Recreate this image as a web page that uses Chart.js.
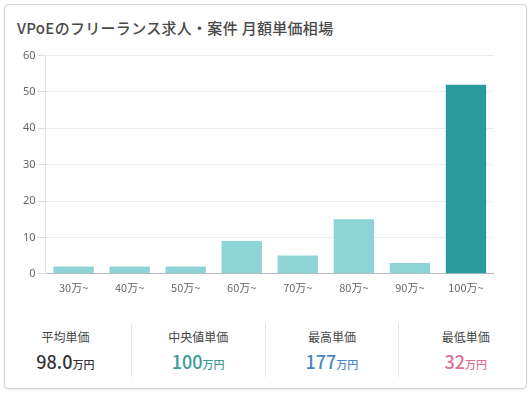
<!DOCTYPE html>
<html>
<head>
<meta charset="utf-8">
<script src="https://cdn.jsdelivr.net/npm/chart.js"></script>
<style>
    html, body { margin: 0; padding: 0; background: #fff; }
    body { width: 532px; height: 393px; position: relative; font-family: "Noto Sans CJK JP", "Noto Sans", sans-serif; }
    .card {
        position: absolute; left: 4px; top: 4px; width: 521px; height: 383px;
        border: 1px solid #d4d4d4; border-radius: 4px; box-shadow: 0 1px 2px rgba(0,0,0,0.08);
    }
    .title { position: absolute; left: 17px; top: 17px; font-size: 15px; font-weight: 500; color: #4a4a4a; letter-spacing: 0.3px; }
    #chart-container { position: absolute; left: 21px; top: 47px; width: 473px; height: 254px; }
    .stats { position: absolute; left: 0; top: 323px; width: 532px; height: 54px; display: flex; }
    .stat { width: 134px; text-align: center; border-right: 1px solid #e6e6e6; }
    .stat:first-child { width: 132px; }
    .stat:last-child { border-right: none; }
    .label { font-size: 12px; color: #444; margin-top: 5px; }
    .value { font-size: 18px; font-weight: 500; margin-top: 3px; }
    .value small { font-size: 11px; }
</style>
</head>
<body>
<div class="card"></div>
<div class="title">VPoEのフリーランス求人・案件 月額単価相場</div>
<div id="chart-container">
    <canvas id="myChart"></canvas>
</div>
<div class="stats" id="stats"></div>
<script>
    const labels = ['30万~', '40万~', '50万~', '60万~', '70万~', '80万~', '90万~', '100万~'];
    const counts = [2, 2, 2, 9, 5, 15, 3, 52];
    const statLabels = ['平均単価', '中央値単価', '最高単価', '最低単価'];
    const statValues = ['98.0', '100', '177', '32'];
    const statColors = ['#333333', '#3a9a96', '#4a86c8', '#e0708f'];

    document.getElementById('stats').innerHTML = statLabels.map((l, i) => `
        <div class="stat">
            <div class="label">${l}</div>
            <div class="value" style="color:${statColors[i]}">${statValues[i]}<small>万円</small></div>
        </div>`).join('');

    const ctx = document.getElementById('myChart').getContext('2d');
    new Chart(ctx, {
        type: 'bar',
        data: {
            labels: labels,
            datasets: [{
                data: counts,
                backgroundColor: counts.map((v, i) => i === counts.length - 1 ? '#2b9a9c' : '#8ed4d6'),
                borderWidth: 0,
                barPercentage: 0.8,
                categoryPercentage: 0.9,
            }],
        },
        options: {
            responsive: true,
            maintainAspectRatio: false,
            animation: false,
            plugins: { legend: { display: false }, tooltip: { enabled: false } },
            scales: {
                x: {
                    grid: { display: false, drawTicks: false },
                    border: { color: '#bbb' },
                    ticks: { color: '#666', font: { size: 11, family: '"Noto Sans CJK JP", sans-serif' }, padding: 7 },
                },
                y: {
                    min: 0,
                    max: 60,
                    grid: { color: '#ececec', tickColor: '#ddd' },
                    border: { color: '#e6e6e6' },
                    ticks: { stepSize: 10, color: '#666', padding: 2, font: { size: 11, family: '"Noto Sans", sans-serif' } },
                },
            },
        },
    });
</script>
</body>
</html>
